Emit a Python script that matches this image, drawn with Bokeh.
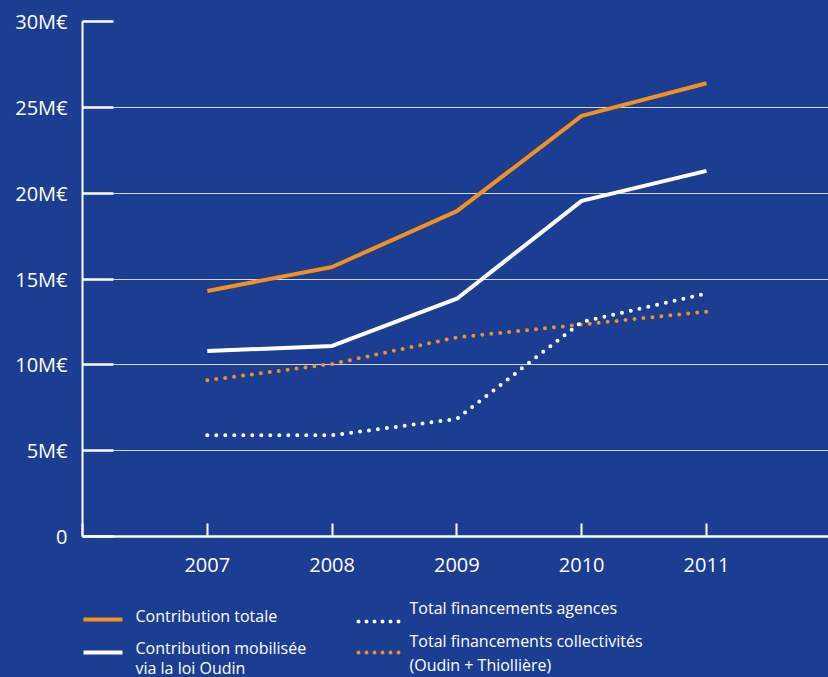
from bokeh.plotting import figure
from bokeh.models import Range1d, FixedTicker
from bokeh.layouts import column
from bokeh.embed import file_html
from bokeh.resources import INLINE
from bokeh.core.properties import value

# ---- data (millions of euros) ----
years = [2007, 2008, 2009, 2010, 2011]
contribution_totale = [14.3, 15.7, 18.95, 24.5, 26.4]
contribution_oudin = [10.8, 11.1, 13.85, 19.55, 21.3]
financements_agences = [5.9, 5.9, 6.85, 12.5, 14.15]
financements_collectivites = [9.1, 10.05, 11.6, 12.35, 13.1]

y_ticks = [0, 5, 10, 15, 20, 25, 30]
y_tick_labels = ["0", "5M€", "10M€", "15M€", "20M€", "25M€", "30M€"]
x_ticks = [2006, 2007, 2008, 2009, 2010, 2011]
x_tick_labels = ["", "2007", "2008", "2009", "2010", "2011"]

legend_labels = [
    "Contribution totale",
    "Contribution mobilisée",
    "via la loi Oudin",
    "Total financements agences",
    "Total financements collectivités",
    "(Oudin + Thiollière)",
]

BG = "#1c3e92"
ORANGE = "#f3901f"
FONT = "Open Sans"

p = figure(width=828, height=593,
           x_range=Range1d(2006, 2011.978), y_range=Range1d(0, 30),
           output_backend="svg", toolbar_location=None,
           min_border_left=82, min_border_right=0,
           min_border_top=21, min_border_bottom=57,
           background_fill_color=BG, border_fill_color=BG,
           outline_line_color=None)

p.line(years, contribution_totale, line_color=ORANGE, line_width=4)
p.line(years, contribution_oudin, line_color="white", line_width=4)
p.line(years, financements_collectivites, line_color=ORANGE, line_width=4,
       line_dash="0 9", line_cap="round")
p.line(years, financements_agences, line_color="white", line_width=4,
       line_dash="0 9", line_cap="round")

# x axis
p.xaxis.ticker = FixedTicker(ticks=x_ticks)
p.xaxis.major_label_overrides = {t: l for t, l in zip(x_ticks, x_tick_labels)}
p.xaxis.axis_line_color = "white"
p.xaxis.axis_line_width = 2.5
p.xaxis.major_tick_line_color = "white"
p.xaxis.major_tick_line_width = 2
p.xaxis.major_tick_in = 13
p.xaxis.major_tick_out = 0
p.xaxis.minor_tick_line_color = None
p.xaxis.major_label_text_color = "white"
p.xaxis.major_label_text_font = FONT
p.xaxis.major_label_text_font_size = "20px"
p.xaxis.major_label_standoff = 21

# y axis
p.yaxis.ticker = FixedTicker(ticks=y_ticks)
p.yaxis.major_label_overrides = {t: l for t, l in zip(y_ticks, y_tick_labels)}
p.yaxis.axis_line_color = "white"
p.yaxis.axis_line_width = 2
p.yaxis.major_tick_line_color = "white"
p.yaxis.major_tick_line_width = 2.5
p.yaxis.major_tick_in = 31
p.yaxis.major_tick_out = 0
p.yaxis.minor_tick_line_color = None
p.yaxis.major_label_text_color = "white"
p.yaxis.major_label_text_font = FONT
p.yaxis.major_label_text_font_size = "20px"
p.yaxis.major_label_standoff = 15

p.xgrid.visible = False
p.ygrid.ticker = FixedTicker(ticks=y_ticks)
p.ygrid.grid_line_color = "white"
p.ygrid.grid_line_alpha = 0.8
p.ygrid.grid_line_width = 1

# ---- legend panel (frame aligned with the chart frame) ----
leg = figure(width=828, height=84,
             x_range=Range1d(82, 828), y_range=Range1d(677, 593),
             output_backend="svg", toolbar_location=None,
             x_axis_type=None, y_axis_type=None,
             min_border=0, min_border_left=82, min_border_right=0,
             min_border_top=0, min_border_bottom=0,
             background_fill_color=BG, border_fill_color=BG,
             outline_line_color=None)
leg.grid.visible = False

leg.segment(x0=[83, 83], y0=[619, 652], x1=[122, 122], y1=[619, 652],
            line_color=[ORANGE, "white"], line_width=4)
leg.segment(x0=[358, 358], y0=[621, 652], x1=[400, 400], y1=[621, 652],
            line_color=["white", ORANGE], line_width=4,
            line_dash="0 8", line_cap="round")
leg.text(x=[135, 135, 135, 409, 409, 409],
         y=[615, 647, 667, 607, 640, 664],
         text=legend_labels, text_color="white",
         text_font=value(FONT), text_font_size="16px",
         text_align="left", text_baseline="middle")

layout = column(p, leg, spacing=0)

html = file_html(layout, INLINE)
html = html.replace("</head>", "<style>body{background:%s;}</style></head>" % BG)
open("out.html", "w").write(html)
